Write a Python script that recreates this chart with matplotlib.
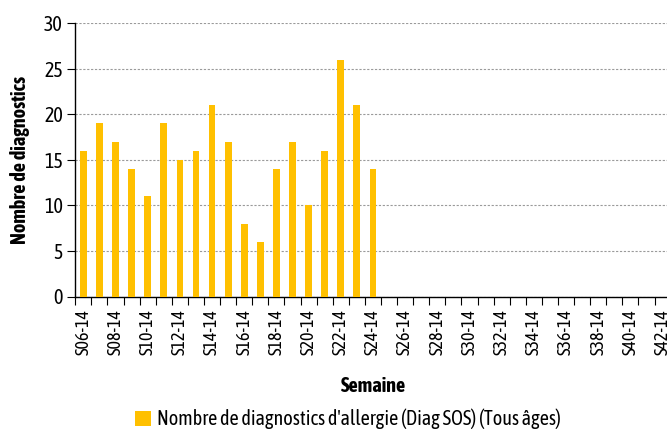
import matplotlib
matplotlib.use("Agg")
import matplotlib.pyplot as plt
from matplotlib.font_manager import fontManager

names = {f.name for f in fontManager.ttflist}
fam = next((n for n in ["Asap Condensed", "Archivo Narrow", "Barlow Condensed"] if n in names), "DejaVu Sans")
plt.rcParams['font.family'] = [fam, 'DejaVu Sans']

weeks = [f"S{w:02d}-14" for w in range(6, 43)]
values = [16, 19, 17, 14, 11, 19, 15, 16, 21, 17, 8, 6, 14, 17, 10, 16, 26, 21, 14] + [0] * 18
series_label = "Nombre de diagnostics d'allergie (Diag SOS) (Tous âges)"
y_ticks = [0, 5, 10, 15, 20, 25, 30]

W, H = 667, 430
fig = plt.figure(figsize=(W / 100, H / 100), dpi=100)
left, bottom = 75.3 / W, (H - 296.5) / H
width = 37 * 16.09 / W
height = (296.5 - 23.3) / H
ax = fig.add_axes([left, bottom, width, height])

x = list(range(len(weeks)))
ax.bar(x, values, width=0.42, color="#FFC000", zorder=3, label=series_label)

ax.set_xlim(-0.5, len(weeks) - 0.5)
ax.set_ylim(0, 30)
ax.set_yticks(y_ticks)
ax.yaxis.grid(True, color="#9a9a9a", linestyle=(0, (2, 1.5)), linewidth=0.8, zorder=0)
ax.set_axisbelow(True)

ax.set_xticks(x[::2])
ax.set_xticklabels(weeks[::2], rotation=90, fontsize=13)
ax.set_xticks([i - 0.5 for i in range(len(weeks) + 1)], minor=True)
ax.tick_params(axis='x', which='major', length=0, pad=9)
ax.tick_params(axis='x', which='minor', length=6, width=0.8, color="#000000", direction='out')
ax.tick_params(axis='y', length=6, width=0.8, labelsize=14.5, pad=3)

for s in ["top", "right"]:
    ax.spines[s].set_visible(False)
for s in ["left", "bottom"]:
    ax.spines[s].set_linewidth(1.0)
    ax.spines[s].set_color("black")

ax.set_ylabel("Nombre de diagnostics", fontsize=14.5, fontweight="bold", labelpad=10)
ax.set_xlabel("Semaine", fontsize=14.5, fontweight="bold", labelpad=15)

fig.legend(loc="center", bbox_to_anchor=(348 / W, 1 - 419 / H), frameon=False, fontsize=14.5,
           handlelength=0.75, handleheight=0.75, handletextpad=0.3)

fig.savefig("out.png", dpi=100)
